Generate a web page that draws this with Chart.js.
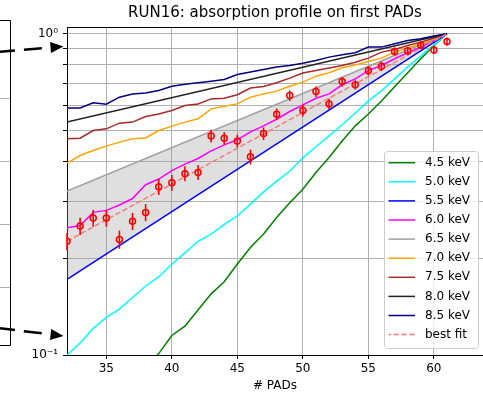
<!DOCTYPE html>
<html>
<head>
<meta charset="utf-8">
<script src="https://cdn.jsdelivr.net/npm/chart.js@4.4.1/dist/chart.umd.min.js"></script>
<style>
  html, body { margin: 0; padding: 0; background: #fff; }
  canvas { display: block; }
</style>
</head>
<body>
<canvas id="chart" width="483" height="395"></canvas>
<script>
// PAD index (x axis)
const pads = [32, 33, 34, 35, 36, 37, 38, 39, 40, 41, 42, 43, 44, 45, 46,
              47, 48, 49, 50, 51, 52, 53, 54, 55, 56, 57, 58, 59, 60, 61];

// measured profile + errors
const measured = [0.226, 0.252, 0.267, 0.267, 0.229, 0.261, 0.278, 0.334, 0.344, 0.367,
                  0.370, 0.481, 0.473, 0.464, 0.414, 0.489, 0.562, 0.642, 0.577, 0.661,
                  0.605, 0.710, 0.694, 0.768, 0.793, 0.881, 0.885, 0.922, 0.891, 0.946];
const measuredErr = [0.014, 0.0155, 0.016, 0.016, 0.015, 0.016, 0.017, 0.019, 0.0195, 0.0195,
                     0.0195, 0.022, 0.021, 0.021, 0.022, 0.022, 0.023, 0.024, 0.024, 0.025,
                     0.023, 0.024, 0.023, 0.026, 0.027, 0.026, 0.026, 0.027, 0.027, 0.028];

// simulated profiles per energy
const sim45 = [null, null, null, null, null, null, 0.091, 0.101, 0.115, 0.123,
               0.138, 0.155, 0.169, 0.192, 0.216, 0.238, 0.268, 0.298, 0.328, 0.370,
               0.412, 0.464, 0.517, 0.563, 0.618, 0.684, 0.756, 0.836, 0.918, 1.0];
const sim50 = [0.100, 0.109, 0.121, 0.131, 0.139, 0.151, 0.164, 0.175, 0.192, 0.208,
               0.226, 0.238, 0.255, 0.271, 0.295, 0.322, 0.348, 0.374, 0.411, 0.445,
               0.481, 0.521, 0.567, 0.618, 0.664, 0.724, 0.789, 0.854, 0.924, 1.0];
const sim60 = [0.249, 0.253, 0.278, 0.282, 0.293, 0.307, 0.339, 0.353, 0.375, 0.393,
               0.409, 0.432, 0.451, 0.468, 0.495, 0.517, 0.542, 0.573, 0.601, 0.630,
               0.650, 0.694, 0.724, 0.768, 0.797, 0.836, 0.873, 0.909, 0.953, 1.0];
const sim70 = [0.396, 0.418, 0.433, 0.447, 0.460, 0.471, 0.474, 0.500, 0.516, 0.531,
               0.544, 0.584, 0.595, 0.605, 0.635, 0.650, 0.663, 0.687, 0.707, 0.738,
               0.756, 0.784, 0.800, 0.820, 0.840, 0.877, 0.903, 0.931, 0.965, 1.0];
const sim75 = [0.471, 0.473, 0.500, 0.506, 0.527, 0.531, 0.553, 0.563, 0.577, 0.598,
               0.605, 0.627, 0.630, 0.646, 0.678, 0.685, 0.704, 0.728, 0.755, 0.769,
               0.782, 0.797, 0.816, 0.840, 0.877, 0.894, 0.920, 0.942, 0.970, 1.0];
const sim85 = [0.588, 0.588, 0.610, 0.604, 0.635, 0.649, 0.654, 0.666, 0.687, 0.697,
               0.704, 0.712, 0.721, 0.747, 0.760, 0.774, 0.788, 0.797, 0.810, 0.826,
               0.846, 0.860, 0.873, 0.909, 0.909, 0.931, 0.953, 0.965, 0.984, 1.0];

// straight profiles: first and last PAD only
const endPads = [32, 61];
const sim55 = [0.172, 1.0];
const sim65 = [0.324, 1.0];
const sim80 = [0.531, 1.0];
const bestFit = [0.226, 1.0];

const xTicks = [35, 40, 45, 50, 55, 60];

const toPoints = (xs, ys) => xs.map((x, i) => ({ x: x, y: ys[i] }));

const lineSet = (label, xs, ys, color, extra) => Object.assign({
  label: label,
  data: toPoints(xs, ys),
  borderColor: color,
  backgroundColor: color,
  borderWidth: 1.5,
  pointRadius: 0,
  fill: false,
  tension: 0
}, extra || {});

// error bars under the open markers
const errorBars = {
  id: 'errorBars',
  beforeDatasetDraw(chart, args) {
    const ds = chart.data.datasets[args.index];
    if (!ds.errors) return;
    const { ctx, scales: { x, y } } = chart;
    ctx.save();
    ctx.strokeStyle = ds.borderColor;
    ctx.lineWidth = 1.6;
    ds.data.forEach((p, i) => {
      const px = x.getPixelForValue(p.x);
      ctx.beginPath();
      ctx.moveTo(px, y.getPixelForValue(p.y - ds.errors[i]));
      ctx.lineTo(px, y.getPixelForValue(p.y + ds.errors[i]));
      ctx.stroke();
    });
    ctx.restore();
  }
};

// frame, legend box, and the left panel pieces with the zoom arrows
const decor = {
  id: 'decor',
  afterDraw(chart) {
    const { ctx, chartArea: a } = chart;
    ctx.save();

    // top spine
    ctx.strokeStyle = '#000';
    ctx.lineWidth = 1;
    ctx.beginPath();
    ctx.moveTo(a.left, a.top + 0.5);
    ctx.lineTo(a.right, a.top + 0.5);
    ctx.stroke();

    // left neighbour panel (cut off)
    ctx.strokeStyle = '#b0b0b0';
    [98, 161, 224, 287].forEach(yy => {
      ctx.beginPath();
      ctx.moveTo(0, yy + 0.5);
      ctx.lineTo(10, yy + 0.5);
      ctx.stroke();
    });
    ctx.strokeStyle = '#000';
    ctx.beginPath();
    ctx.moveTo(0, 20.5);
    ctx.lineTo(10.5, 20.5);
    ctx.lineTo(10.5, 345.5);
    ctx.lineTo(0, 345.5);
    ctx.stroke();

    // dashed arrows
    const arrow = (x0, y0, x1, y1) => {
      const ang = Math.atan2(y1 - y0, x1 - x0);
      const hl = 13, hw = 5.5;
      const bx = x1 - hl * Math.cos(ang), by = y1 - hl * Math.sin(ang);
      ctx.strokeStyle = '#000';
      ctx.lineWidth = 2.5;
      ctx.setLineDash([18, 9]);
      ctx.lineDashOffset = 3;
      ctx.beginPath();
      ctx.moveTo(x0, y0);
      ctx.lineTo(bx, by);
      ctx.stroke();
      ctx.setLineDash([]);
      ctx.fillStyle = '#000';
      ctx.beginPath();
      ctx.moveTo(x1, y1);
      ctx.lineTo(bx - hw * Math.sin(ang), by + hw * Math.cos(ang));
      ctx.lineTo(bx + hw * Math.sin(ang), by - hw * Math.cos(ang));
      ctx.closePath();
      ctx.fill();
    };
    arrow(0, 51.7, 63.5, 46.5);
    arrow(0, 328.3, 63.5, 336);

    // legend
    const items = chart.data.datasets.filter(d => d.inLegend);
    const bx = 384.5, by = 151.5, bw = 94, bh = 197;
    ctx.lineWidth = 1;
    ctx.fillStyle = 'rgba(255,255,255,0.8)';
    ctx.strokeStyle = '#cccccc';
    ctx.beginPath();
    ctx.roundRect(bx, by, bw, bh, 3);
    ctx.fill();
    ctx.stroke();
    ctx.font = '12px "DejaVu Sans"';
    ctx.textBaseline = 'middle';
    ctx.textAlign = 'left';
    items.forEach((d, i) => {
      const ry = 162.7 + i * 19.1;
      ctx.strokeStyle = d.borderColor;
      ctx.lineWidth = 1.5;
      ctx.setLineDash(d.borderDash || []);
      ctx.beginPath();
      ctx.moveTo(388.5, ry);
      ctx.lineTo(415, ry);
      ctx.stroke();
      ctx.setLineDash([]);
      ctx.fillStyle = '#000';
      ctx.fillText(d.label, 425, ry);
    });
    ctx.restore();
  }
};

Chart.defaults.font.family = '"DejaVu Sans", sans-serif';
Chart.defaults.color = '#000';

new Chart(document.getElementById('chart'), {
  type: 'line',
  data: {
    datasets: [
      lineSet('4.5 keV', pads, sim45, '#008000', { inLegend: true, order: 10 }),
      lineSet('5.0 keV', pads, sim50, '#00ffff', { inLegend: true, order: 9 }),
      lineSet('5.5 keV', endPads, sim55, '#0000ff', { inLegend: true, order: 8 }),
      lineSet('6.0 keV', pads, sim60, '#ff00ff', { inLegend: true, order: 7 }),
      lineSet('6.5 keV', endPads, sim65, '#a0a0a0', { inLegend: true, order: 6,
        fill: { target: 2 }, backgroundColor: 'rgba(150,150,150,0.3)' }),
      lineSet('7.0 keV', pads, sim70, '#ffa500', { inLegend: true, order: 5 }),
      lineSet('7.5 keV', pads, sim75, '#a52a2a', { inLegend: true, order: 4 }),
      lineSet('8.0 keV', endPads, sim80, '#222222', { inLegend: true, order: 3 }),
      lineSet('8.5 keV', pads, sim85, '#000080', { inLegend: true, order: 2 }),
      lineSet('best fit', endPads, bestFit, '#f08080', { borderDash: [5.5, 2.4], inLegend: true, order: 1 }),
      { label: 'data', data: toPoints(pads, measured), errors: measuredErr,
        showLine: false, borderColor: '#ff0000', pointBorderColor: '#ff0000',
        pointBackgroundColor: 'rgba(0,0,0,0)', pointRadius: 3, pointBorderWidth: 1.5,
        order: 0 }
    ]
  },
  options: {
    responsive: false,
    animation: false,
    devicePixelRatio: 1,
    layout: { padding: 0, autoPadding: false },
    plugins: {
      legend: { display: false },
      tooltip: { enabled: false },
      filler: { drawTime: 'beforeDatasetsDraw' },
      title: {
        display: true,
        fullSize: false,
        text: 'RUN16: absorption profile on first PADs',
        font: { size: 15, weight: 'normal' },
        color: '#000',
        padding: { top: 4, bottom: 5 }
      }
    },
    scales: {
      x: {
        type: 'linear',
        min: 32,
        max: 63.75,
        afterBuildTicks: s => { s.ticks = xTicks.map(v => ({ value: v })); },
        afterFit: s => { s.height = 40; },
        grid: { color: '#b0b0b0', lineWidth: 1, tickLength: 4, tickColor: '#000' },
        border: { display: true, color: '#000', width: 1 },
        ticks: { color: '#000', font: { size: 12 }, padding: 3, maxRotation: 0, autoSkip: false },
        title: { display: true, text: '# PADs', color: '#000', font: { size: 12 }, padding: { top: 0, bottom: 2 } }
      },
      y: {
        type: 'logarithmic',
        min: 0.1,
        max: 1.05,
        afterFit: s => { s.width = 67; },
        grid: {
          lineWidth: 1,
          tickLength: 4,
          color: c => (c.tick && c.tick.value > 1.01) ? 'rgba(0,0,0,0)' : '#b0b0b0',
          tickColor: c => (c.tick && c.tick.value > 1.01) ? 'rgba(0,0,0,0)' : '#000'
        },
        border: { display: true, color: '#000', width: 1 },
        ticks: {
          color: '#000',
          font: { size: 12 },
          padding: 5,
          autoSkip: false,
          callback: v => Math.abs(v - 1) < 1e-9 ? '10⁰' : (Math.abs(v - 0.1) < 1e-9 ? '10⁻¹' : '')
        }
      }
    }
  },
  plugins: [errorBars, decor]
});
</script>
</body>
</html>
